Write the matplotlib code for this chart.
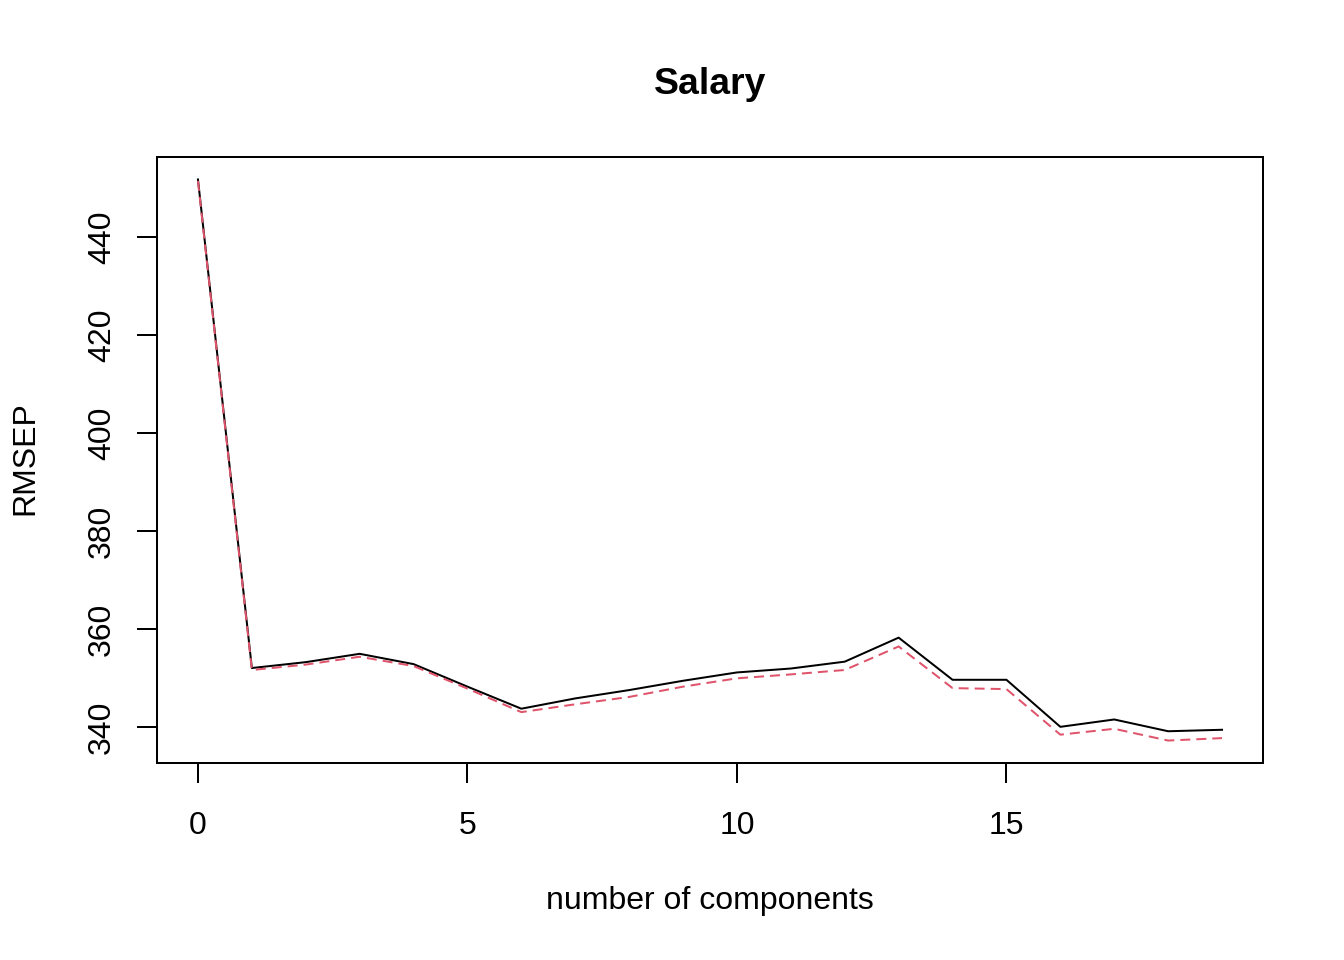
import matplotlib
matplotlib.use('Agg')
import matplotlib.pyplot as plt
import numpy as np

plt.rcParams['font.family'] = ['Liberation Sans', 'DejaVu Sans']

components = np.arange(0, 20)
cv = [451.8, 352.1, 353.3, 355.0, 352.9, 348.3, 343.8, 345.9, 347.6, 349.5,
      351.2, 352.0, 353.4, 358.3, 349.7, 349.7, 340.1, 341.6, 339.2, 339.5]
adj_cv = [451.5, 351.7, 352.8, 354.4, 352.5, 347.9, 343.1, 344.7, 346.2, 348.3,
          350.0, 350.8, 351.7, 356.5, 348.0, 347.8, 338.5, 339.7, 337.3, 337.8]

fig = plt.figure(figsize=(14, 10), dpi=96)
ax = fig.add_axes([157 / 1344, 1 - 763 / 960, (1263 - 157) / 1344, (763 - 157) / 960])

ax.plot(components, cv, color='black', lw=1.5)
ax.plot(components, adj_cv, color='#DF536B', lw=1.5, dashes=(5, 3))

# R style 4% padding
ax.set_xlim(-0.76, 19.76)
lo = min(min(cv), min(adj_cv))
hi = max(max(cv), max(adj_cv))
pad = (hi - lo) * 0.04
ax.set_ylim(lo - pad, hi + pad)

ax.set_xticks([0, 5, 10, 15])
ax.set_yticks([340, 360, 380, 400, 420, 440])
ax.tick_params(axis='both', direction='out', length=15, width=1.5, labelsize=24)
ax.tick_params(axis='x', pad=21)
ax.tick_params(axis='y', pad=15)
for lab in ax.get_yticklabels():
    lab.set_rotation(90)
    lab.set_va('center')
for s in ax.spines.values():
    s.set_linewidth(1.5)

fig.text(710 / 1344, 1 - 84 / 960, 'Salary', ha='center', va='center',
         fontsize=28, fontweight='bold')
fig.text(710 / 1344, 1 - 901 / 960, 'number of components', ha='center',
         va='center', fontsize=24)
fig.text(25 / 1344, 1 - 458 / 960, 'RMSEP', ha='center', va='center',
         fontsize=24, rotation=90)

fig.savefig('out.png', dpi=96)
